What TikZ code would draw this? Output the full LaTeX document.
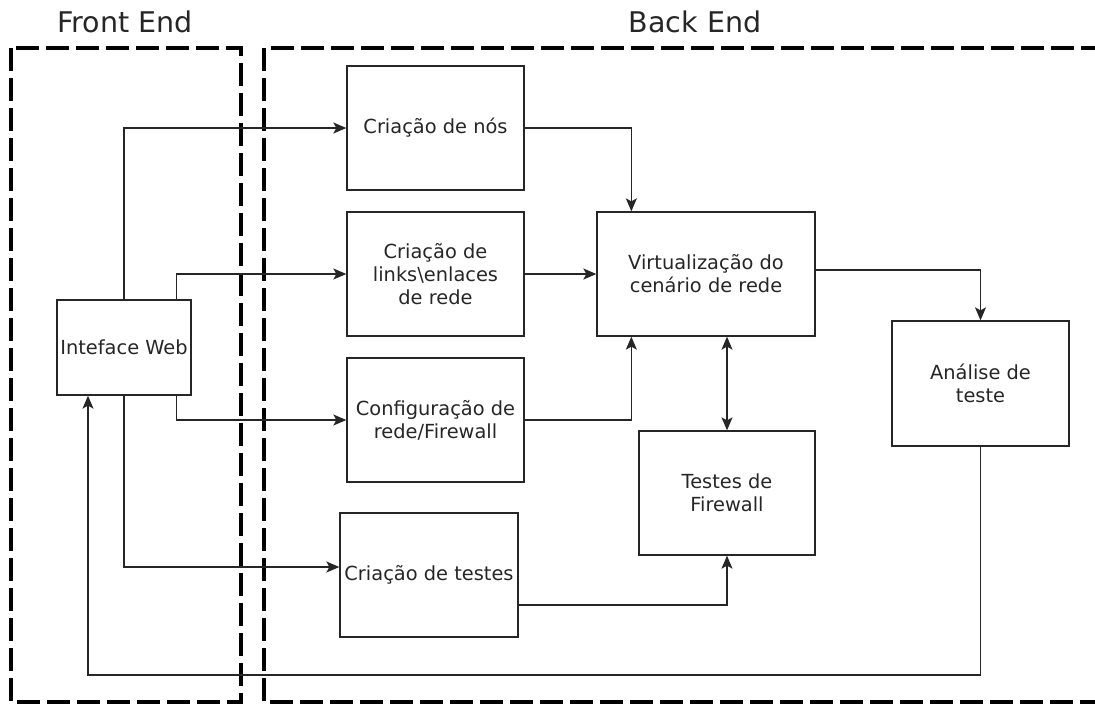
\documentclass[tikz,border=0pt]{standalone}
\usepackage{fontspec}
\setmainfont{DejaVu Sans}
\usetikzlibrary{arrows.meta}
\begin{document}
\begin{tikzpicture}[x=1pt,y=-1pt,
  block/.style={draw=black!85,line width=1.3pt,rectangle,inner sep=0pt,align=center,
    font=\fontsize{19.4}{23}\selectfont,text=black!85},
  tip/.style={Stealth[length=13pt,width=11pt,inset=3pt]},
  link/.style={draw=black!85,line width=1.3pt,-{Stealth[length=13pt,width=11pt,inset=3pt]}},
  biarrow/.style={draw=black!85,line width=1.3pt,{Stealth[length=13pt,width=11pt,inset=3pt]}-{Stealth[length=13pt,width=11pt,inset=3pt]}},
  region/.style={draw=black,line width=3.6pt,dash pattern=on 23pt off 7pt},
  title/.style={font=\fontsize{28.5}{32}\selectfont,text=black!85}]
\useasboundingbox (0,0) rectangle (1095,705);

% front end / back end regions
\draw[region] (11,48) rectangle (241,702);
\draw[region] (264,48) rectangle (1110,702);
\node[title] (fe) at (125,22) {Front End};
\node[title] (be) at (695,22) {Back End};

% blocks
\node[block,minimum width=134,minimum height=95] (web) at (124,347.5) {Inteface Web};
\node[block,minimum width=177,minimum height=124] (nos) at (435.5,128) {Criação de nós};
\node[block,minimum width=177,minimum height=124] (links) at (435.5,274) {Criação de\\links\textbackslash enlaces\\de rede};
\node[block,minimum width=177,minimum height=124] (config) at (435.5,420) {Configuração de\\rede/Firewall};
\node[block,minimum width=178,minimum height=124] (testes) at (429,575) {Criação de testes};
\node[block,minimum width=218,minimum height=124] (virt) at (706,274) {Virtualização do\\cenário de rede};
\node[block,minimum width=176,minimum height=124] (fw) at (727,493) {Testes de\\Firewall};
\node[block,minimum width=177,minimum height=125] (ana) at (980.5,383.5) {Análise de\\teste};
\coordinate (ret) at (88,675);

% connectors
\draw[link] (web.north) |- (nos.west);
\draw[link] ([xshift=-15pt]web.north east) |- (links.west);
\draw[link] ([xshift=-15pt]web.south east) |- (config.west);
\draw[link] (web.south) |- ([yshift=8pt]testes.west);
\draw[link] (nos.east) -| ([xshift=35pt]virt.north west);
\draw[link] (links.east) -- (virt.west);
\draw[link] (config.east) -| ([xshift=35pt]virt.south west);
\draw[biarrow] (fw.north |- virt.south) -- (fw.north);
\draw[link] ([yshift=-30pt]testes.east) -| (fw.south);
\draw[link] ([yshift=4pt]virt.east) -| (ana.north);
\draw[link] (ana.south) |- (ret) -- ([xshift=-36pt]web.south);
\end{tikzpicture}
\end{document}
